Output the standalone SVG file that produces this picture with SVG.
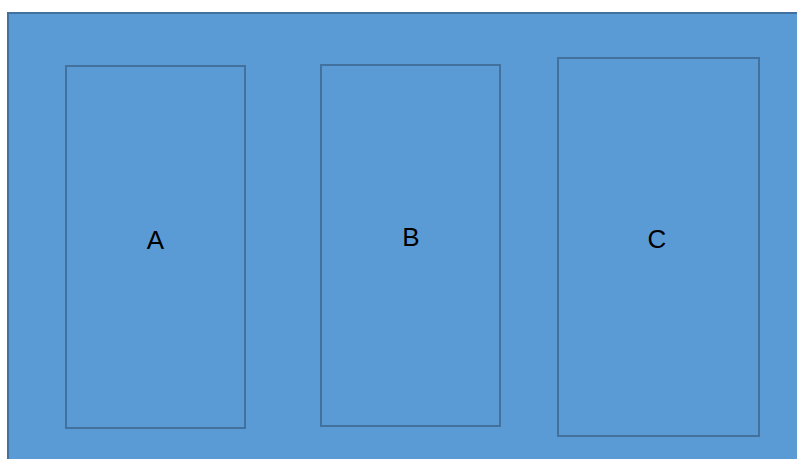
<svg xmlns="http://www.w3.org/2000/svg" width="797" height="459" viewBox="0 0 797 459">
<style>
.box{fill:#5B9BD5;stroke:#41719C;stroke-width:2}
.lbl{font-family:"Liberation Sans",Arial,sans-serif;font-size:26px;fill:#000;text-anchor:middle}
</style>
<rect width="797" height="459" fill="#ffffff"/>
<g id="container"><rect class="box" x="8" y="13" width="800" height="460"/></g>
<g id="nodeA"><rect class="box" x="66" y="66" width="179" height="362"/><text class="lbl" x="155.5" y="249">A</text></g>
<g id="nodeB"><rect class="box" x="321" y="65" width="179" height="361"/><text class="lbl" x="411" y="246">B</text></g>
<g id="nodeC"><rect class="box" x="558" y="58" width="201" height="378"/><text class="lbl" x="657" y="248">C</text></g>
<g id="connectors"></g>
</svg>
